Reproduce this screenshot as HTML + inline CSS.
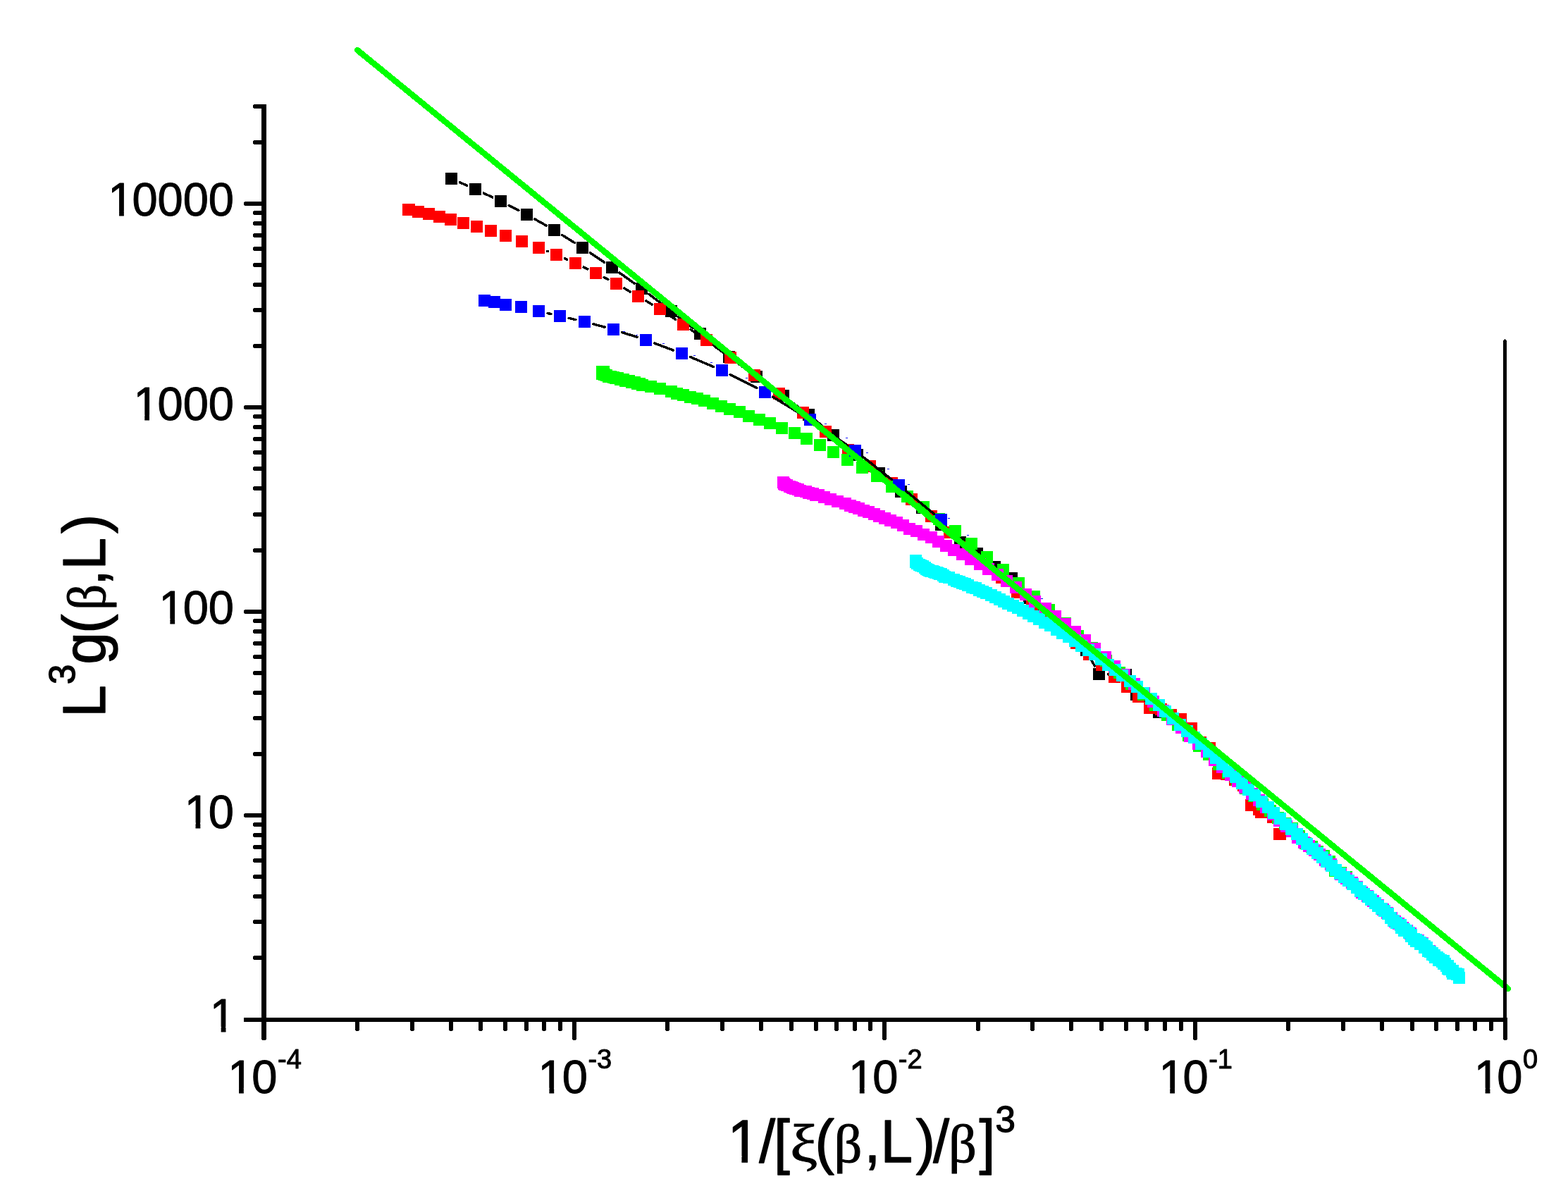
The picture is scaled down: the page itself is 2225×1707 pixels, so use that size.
<!DOCTYPE html>
<html lang="en"><head><meta charset="utf-8"><title>Scaling plot</title>
<style>html,body{margin:0;padding:0;background:#fff;overflow:hidden}svg{display:block}text{font-family:"Liberation Sans",sans-serif;fill:#000;stroke:#000;stroke-width:1px;stroke-linejoin:round}#xtitle text,#ytitle text{stroke-width:1.3px}#xtitle text.gk,#ytitle text.gk{font-family:"Liberation Serif",serif;stroke-width:1.1px}</style></head><body>
<svg width="2225" height="1707" viewBox="0 0 2225 1707" shape-rendering="crispEdges" role="img" aria-label="Log-log scaling plot of L^3 g(beta,L) versus 1/[xi(beta,L)/beta]^3">
<rect width="2225" height="1707" fill="#fff"/>
<g id="series-black">
<path fill="none" stroke="#000" stroke-width="3.5" stroke-linecap="round" d="M652.39 258.75L662.61 263.25M686.26 274.05L698.74 279.95M722.06 291.44L735.94 298.56M758.82 310.89L775.18 320.11M797.52 333.39L815.48 344.61M837.32 358.71L857.68 372.29M879.08 387.06L899.92 401.94M920.84 417.38L942.16 433.62M962.75 449.5L983.25 465.5M1003.64 481.64L1023.86 497.86M1044.54 513.61L1062.96 526.89M1084.1 542.03L1100.9 553.97M1121.9 569.3L1137.1 580.7M1157.51 596.79L1172.49 609.21M1192.54 625.76L1206.46 637.24M1226.46 653.85L1237.54 663.15M1257.46 679.85L1268.54 689.15M1288.73 705.52L1298.27 712.98M1318.22 729.64L1325.78 736.36M1345.13 753.74L1352.87 760.76M1373.32 776.71L1375.68 778.29M1396.85 793.37L1401.15 796.63M1422.32 811.71L1424.68 813.29M1444.07 830.27L1451.93 839.23M1470.9 856.8L1476.1 860.7M1495.33 878.04L1502.67 885.96M1521.08 904.28L1531.92 914.22M1547.65 934.45L1553.35 945.05M1572.5 956.84L1584.5 957.16M1603.64 968.96L1606.36 974.04M1622.74 993.5L1634.26 1002.5"/>
<path fill="#000" d="M632 245h17v17h-17zM666 260h17v17h-17zM702 277h17v17h-17zM739 296h17v17h-17zM778 318h17v17h-17zM818 343h17v17h-17zM860 371h17v17h-17zM902 401h17v17h-17zM944 433h17v17h-17zM985 465h17v17h-17zM1026 498h17v17h-17zM1065 526h17v17h-17zM1103 553h17v17h-17zM1139 580h17v17h-17zM1174 609h17v17h-17zM1208 637h17v17h-17zM1239 663h17v17h-17zM1270 689h17v17h-17zM1300 712h17v17h-17zM1327 736h17v17h-17zM1354 761h17v17h-17zM1378 777h17v17h-17zM1403 796h17v17h-17zM1427 812h17v17h-17zM1452 840h17v17h-17zM1478 860h17v17h-17zM1503 887h17v17h-17zM1533 914h17v17h-17zM1551 948h17v17h-17zM1589 949h17v17h-17zM1604 977h17v17h-17zM1636 1002h17v17h-17z"/>
</g>
<g id="series-red">
<path fill="none" stroke="#000" stroke-width="3.5" stroke-linecap="round" d="M776.57 356.33L777.43 356.67M801.38 366.78L804.62 368.22M828.21 379.15L833.79 381.85M857.05 393.47L862.95 396.53M885.74 409.03L894.26 413.97M916.74 427.03L925.26 431.97M947.32 445.71L958.68 453.29M980.24 467.82L991.76 475.68M1013.05 490.6L1025.95 499.9M1046.97 515.2L1060.03 524.8M1080.94 540.25L1095.06 550.75M1115.68 566.58L1129.32 577.42M1149.44 593.88L1161.56 604.12M1181.59 620.7L1193.41 630.3M1213.94 646.25L1224.06 653.75M1244.78 669.46L1255.22 677.54M1275.55 693.75L1283.45 700.25M1303.37 716.96L1311.63 724.04M1331.24 741.11L1337.76 746.89M1357.61 763.67L1363.39 768.33M1383.28 785.06L1387.72 788.94M1407.08 806.28L1411.92 810.72M1430.9 828.48L1434.1 831.52M1453.37 848.96L1454.63 850.04M1474.37 866.96L1475.63 868.04M1495.79 884.45L1497.21 885.55M1516.92 902.45L1518.08 903.55M1720.61 1073.83L1724.39 1085.17M1769.18 1126.63L1770.82 1130.87"/>
<path fill="#f00" d="M571 289h17v17h-17zM572 289h17v17h-17zM585 292h17v17h-17zM600 295h17v17h-17zM615 299h17v17h-17zM631 303h17v17h-17zM649 308h17v17h-17zM668 313h17v17h-17zM688 319h17v17h-17zM709 326h17v17h-17zM732 334h17v17h-17zM756 343h17v17h-17zM781 353h17v17h-17zM808 365h17v17h-17zM837 379h17v17h-17zM866 394h17v17h-17zM897 412h17v17h-17zM928 430h17v17h-17zM961 452h17v17h-17zM994 474h17v17h-17zM1028 499h17v17h-17zM1062 524h17v17h-17zM1097 550h17v17h-17zM1131 577h17v17h-17zM1163 604h17v17h-17zM1195 630h17v17h-17zM1226 653h17v17h-17zM1257 677h17v17h-17zM1285 700h17v17h-17zM1313 724h17v17h-17zM1339 747h17v17h-17zM1365 768h17v17h-17zM1389 789h17v17h-17zM1413 811h17v17h-17zM1435 832h17v17h-17zM1456 850h17v17h-17zM1477 868h17v17h-17zM1499 885h17v17h-17zM1519 904h17v17h-17zM1537 920h17v17h-17zM1555 935h17v17h-17zM1573 952h17v17h-17zM1591 966h17v17h-17zM1607 980h17v17h-17zM1623 996h17v17h-17zM1639 998h17v17h-17zM1653 1006h17v17h-17zM1667 1012h17v17h-17zM1682 1025h17v17h-17zM1695 1045h17v17h-17zM1708 1053h17v17h-17zM1720 1089h17v17h-17zM1732 1090h17v17h-17zM1744 1098h17v17h-17zM1756 1106h17v17h-17zM1767 1134h17v17h-17zM1778 1140h17v17h-17zM1781 1144h17v17h-17zM1798 1151h17v17h-17zM1807 1175h17v17h-17zM1808 1175h17v17h-17z"/>
</g>
<g id="series-green">
<path fill="#0f0" d="M846 519h17v17h-17zM848 519h17v17h-17zM846 522h17v17h-17zM849 523h17v17h-17zM852 524h17v17h-17zM855 526h17v17h-17zM858 526h17v17h-17zM862 527h17v17h-17zM865 528h17v17h-17zM868 528h17v17h-17zM872 530h17v17h-17zM876 530h17v17h-17zM879 532h17v17h-17zM884 532h17v17h-17zM888 534h17v17h-17zM892 534h17v17h-17zM896 536h17v17h-17zM899 536h17v17h-17zM903 538h17v17h-17zM915 540h17v17h-17zM928 543h17v17h-17zM944 547h17v17h-17zM952 550h17v17h-17zM961 552h17v17h-17zM971 555h17v17h-17zM981 557h17v17h-17zM991 560h17v17h-17zM1003 564h17v17h-17zM1015 568h17v17h-17zM1027 572h17v17h-17zM1041 576h17v17h-17zM1054 582h17v17h-17zM1069 587h17v17h-17zM1084 592h17v17h-17zM1101 599h17v17h-17zM1119 606h17v17h-17zM1136 614h17v17h-17zM1155 623h17v17h-17zM1174 633h17v17h-17zM1194 644h17v17h-17zM1215 655h17v17h-17zM1236 667h17v17h-17zM1257 682h17v17h-17zM1279 696h17v17h-17zM1302 711h17v17h-17zM1324 728h17v17h-17zM1347 745h17v17h-17zM1370 763h17v17h-17zM1392 782h17v17h-17zM1415 800h17v17h-17zM1437 819h17v17h-17zM1459 838h17v17h-17zM1480 857h17v17h-17zM1503 876h17v17h-17zM1521 894h17v17h-17zM1541 911h17v17h-17zM1561 929h17v17h-17zM1580 946h17v17h-17zM1597 962h17v17h-17zM1614 977h17v17h-17zM1631 992h17v17h-17zM1648 1006h17v17h-17zM1663 1020h17v17h-17zM1678 1035h17v17h-17zM1693 1050h17v17h-17zM1707 1062h17v17h-17zM1721 1076h17v17h-17zM1734 1088h17v17h-17zM1747 1098h17v17h-17zM1759 1110h17v17h-17zM1771 1121h17v17h-17zM1783 1133h17v17h-17zM1794 1142h17v17h-17zM1805 1152h17v17h-17zM1815 1160h17v17h-17zM1825 1167h17v17h-17zM1835 1178h17v17h-17zM1844 1188h17v17h-17zM1853 1193h17v17h-17zM1861 1200h17v17h-17zM1870 1206h17v17h-17zM1878 1214h17v17h-17zM1886 1227h17v17h-17zM1894 1230h17v17h-17zM1902 1236h17v17h-17z"/>
</g>
<g id="series-blue">
<path fill="none" stroke="#000" stroke-width="3.5" stroke-linecap="round" d="M777.16 444.45L781.84 445.55M807.17 451.4L816.83 453.6M842.06 459.87L857.94 464.13M882.86 471.53L904.14 478.47M928.68 487.04L955.32 496.96M979.48 506.54L1012.52 520.46M1036.09 531.39L1073.91 550.61M1096.6 563.26L1138.4 588.74M1160.21 602.86L1202.79 632.14M1223.7 647.56L1265.3 680.44M1285.57 696.72L1325.43 729.28"/>
<path fill="#00f" d="M679 418h17v17h-17zM693 420h17v17h-17zM709 424h17v17h-17zM731 427h17v17h-17zM756 433h17v17h-17zM786 440h17v17h-17zM821 448h17v17h-17zM862 459h17v17h-17zM908 474h17v17h-17zM959 493h17v17h-17zM1016 517h17v17h-17zM1077 548h17v17h-17zM1141 587h17v17h-17zM1205 631h17v17h-17zM1267 680h17v17h-17zM1327 729h17v17h-17z"/>
<path fill="#00f" d="M884 470h3v1h-3zM902 475h3v1h-3zM940 487h3v1h-3zM984 504h3v1h-3zM1008 514h3v1h-3zM1058 536h3v1h-3zM1170 601h3v1h-3zM1200 621h3v1h-3zM1229 642h3v1h-3zM1259 665h3v1h-3zM1288 687h3v1h-3zM1345 735h3v1h-3zM1372 759h3v1h-3zM1477 849h3v1h-3z"/>
</g>
<g id="series-magenta">
<path fill="#f0f" d="M1103 676h17v17h-17zM1104 678h17v17h-17zM1105 679h17v17h-17zM1108 680h17v17h-17zM1112 682h17v17h-17zM1115 683h17v17h-17zM1117 684h17v17h-17zM1120 685h17v17h-17zM1124 686h17v17h-17zM1127 688h17v17h-17zM1135 689h17v17h-17zM1139 691h17v17h-17zM1145 692h17v17h-17zM1149 694h17v17h-17zM1153 694h17v17h-17zM1161 697h17v17h-17zM1170 700h17v17h-17zM1180 703h17v17h-17zM1191 706h17v17h-17zM1198 709h17v17h-17zM1204 711h17v17h-17zM1210 713h17v17h-17zM1217 716h17v17h-17zM1224 718h17v17h-17zM1232 721h17v17h-17zM1239 724h17v17h-17zM1247 727h17v17h-17zM1255 730h17v17h-17zM1264 733h17v17h-17zM1273 737h17v17h-17zM1282 742h17v17h-17zM1292 745h17v17h-17zM1302 750h17v17h-17zM1313 754h17v17h-17zM1323 760h17v17h-17zM1334 766h17v17h-17zM1345 772h17v17h-17zM1357 778h17v17h-17zM1369 785h17v17h-17zM1382 792h17v17h-17zM1394 799h17v17h-17zM1407 807h17v17h-17zM1420 816h17v17h-17zM1433 825h17v17h-17zM1447 835h17v17h-17zM1460 845h17v17h-17zM1475 855h17v17h-17zM1489 866h17v17h-17zM1503 877h17v17h-17zM1517 888h17v17h-17zM1531 900h17v17h-17zM1545 912h17v17h-17zM1560 924h17v17h-17zM1573 937h17v17h-17zM1587 949h17v17h-17zM1601 962h17v17h-17zM1615 975h17v17h-17zM1628 987h17v17h-17zM1642 1000h17v17h-17zM1655 1012h17v17h-17zM1668 1024h17v17h-17zM1680 1036h17v17h-17zM1692 1047h17v17h-17zM1704 1058h17v17h-17zM1715 1070h17v17h-17zM1726 1080h17v17h-17zM1738 1091h17v17h-17zM1748 1100h17v17h-17zM1758 1109h17v17h-17zM1768 1118h17v17h-17zM1778 1127h17v17h-17zM1788 1137h17v17h-17zM1798 1147h17v17h-17zM1807 1156h17v17h-17zM1817 1164h17v17h-17zM1825 1171h17v17h-17zM1833 1180h17v17h-17zM1842 1187h17v17h-17zM1849 1192h17v17h-17zM1857 1198h17v17h-17zM1864 1204h17v17h-17zM1872 1212h17v17h-17zM1880 1218h17v17h-17zM1887 1226h17v17h-17zM1894 1232h17v17h-17zM1902 1238h17v17h-17zM1910 1244h17v17h-17zM1917 1250h17v17h-17zM1924 1258h17v17h-17zM1932 1263h17v17h-17zM1940 1270h17v17h-17zM1947 1276h17v17h-17zM1954 1282h17v17h-17zM1960 1287h17v17h-17zM1966 1294h17v17h-17zM1971 1299h17v17h-17zM1976 1302h17v17h-17zM1982 1308h17v17h-17zM1988 1312h17v17h-17zM1993 1316h17v17h-17zM1998 1324h17v17h-17zM2004 1326h17v17h-17zM2010 1330h17v17h-17zM2015 1336h17v17h-17zM2020 1341h17v17h-17z"/>
</g>
<g id="series-cyan">
<path fill="#0ff" d="M1291 787h17v17h-17zM1291 789h17v17h-17zM1293 791h17v17h-17zM1296 793h17v17h-17zM1298 794h17v17h-17zM1301 795h17v17h-17zM1304 797h17v17h-17zM1306 799h17v17h-17zM1308 800h17v17h-17zM1310 801h17v17h-17zM1312 802h17v17h-17zM1315 802h17v17h-17zM1317 803h17v17h-17zM1319 804h17v17h-17zM1321 804h17v17h-17zM1323 805h17v17h-17zM1325 806h17v17h-17zM1327 806h17v17h-17zM1330 808h17v17h-17zM1332 810h17v17h-17zM1338 811h17v17h-17zM1345 814h17v17h-17zM1349 816h17v17h-17zM1353 817h17v17h-17zM1357 819h17v17h-17zM1361 820h17v17h-17zM1365 822h17v17h-17zM1371 825h17v17h-17zM1376 826h17v17h-17zM1381 829h17v17h-17zM1386 831h17v17h-17zM1391 833h17v17h-17zM1398 836h17v17h-17zM1404 839h17v17h-17zM1410 842h17v17h-17zM1416 845h17v17h-17zM1422 848h17v17h-17zM1429 851h17v17h-17zM1436 854h17v17h-17zM1443 858h17v17h-17zM1451 862h17v17h-17zM1458 866h17v17h-17zM1466 870h17v17h-17zM1474 875h17v17h-17zM1482 879h17v17h-17zM1491 885h17v17h-17zM1499 890h17v17h-17zM1508 895h17v17h-17zM1517 901h17v17h-17zM1526 908h17v17h-17zM1536 914h17v17h-17zM1545 920h17v17h-17zM1554 927h17v17h-17zM1564 935h17v17h-17zM1574 942h17v17h-17zM1584 950h17v17h-17zM1595 958h17v17h-17zM1605 966h17v17h-17zM1614 975h17v17h-17zM1625 983h17v17h-17zM1636 992h17v17h-17zM1645 1001h17v17h-17zM1656 1011h17v17h-17zM1666 1020h17v17h-17zM1676 1029h17v17h-17zM1686 1038h17v17h-17zM1696 1047h17v17h-17zM1707 1058h17v17h-17zM1717 1067h17v17h-17zM1726 1076h17v17h-17zM1735 1086h17v17h-17zM1745 1094h17v17h-17zM1754 1103h17v17h-17zM1763 1112h17v17h-17zM1772 1120h17v17h-17zM1782 1129h17v17h-17zM1791 1137h17v17h-17zM1799 1145h17v17h-17zM1808 1153h17v17h-17zM1816 1161h17v17h-17zM1824 1168h17v17h-17zM1832 1175h17v17h-17zM1839 1182h17v17h-17zM1846 1189h17v17h-17zM1854 1196h17v17h-17zM1861 1202h17v17h-17zM1868 1208h17v17h-17zM1874 1214h17v17h-17zM1881 1220h17v17h-17zM1887 1226h17v17h-17zM1893 1231h17v17h-17zM1899 1236h17v17h-17zM1905 1241h17v17h-17zM1911 1246h17v17h-17zM1917 1251h17v17h-17zM1922 1256h17v17h-17zM1927 1260h17v17h-17zM1933 1264h17v17h-17zM1937 1268h17v17h-17zM1943 1273h17v17h-17zM1947 1277h17v17h-17zM1952 1281h17v17h-17zM1956 1284h17v17h-17zM1961 1288h17v17h-17zM1965 1294h17v17h-17zM1969 1298h17v17h-17zM1973 1301h17v17h-17zM1979 1304h17v17h-17zM1980 1308h17v17h-17zM1984 1310h17v17h-17zM1984 1312h17v17h-17zM1987 1312h17v17h-17zM1991 1315h17v17h-17zM1994 1318h17v17h-17zM1994 1320h17v17h-17zM1998 1324h17v17h-17zM2001 1325h17v17h-17zM2001 1327h17v17h-17zM2004 1327h17v17h-17zM2007 1329h17v17h-17zM2007 1331h17v17h-17zM2010 1331h17v17h-17zM2013 1334h17v17h-17zM2013 1336h17v17h-17zM2016 1336h17v17h-17zM2018 1341h17v17h-17zM2021 1342h17v17h-17zM2024 1344h17v17h-17zM2024 1346h17v17h-17zM2027 1347h17v17h-17zM2028 1350h17v17h-17zM2031 1350h17v17h-17zM2033 1352h17v17h-17zM2033 1354h17v17h-17zM2036 1354h17v17h-17zM2038 1356h17v17h-17zM2040 1355h17v17h-17zM2040 1359h17v17h-17zM2042 1359h17v17h-17zM2044 1362h17v17h-17zM2046 1362h17v17h-17zM2046 1366h17v17h-17zM2048 1367h17v17h-17zM2049 1366h17v17h-17zM2052 1370h17v17h-17zM2053 1369h17v17h-17zM2053 1373h17v17h-17zM2055 1373h17v17h-17zM2058 1373h17v17h-17zM2059 1374h17v17h-17zM2061 1374h17v17h-17zM2062 1379h17v17h-17z"/>
</g>
<path id="fit" fill="none" stroke="#0f0" stroke-width="8.5" stroke-linecap="round" d="M507 71L2139.8 1402.8"/>
<g id="axes" fill="#000">
<path d="M371 148h6l1 1V1474.4l-1.6 1.6h-3.8l-1.6 -1.6z"/>
<rect x="346" y="1444" width="1793" height="6"/>
<rect x="2133" y="483" width="5" height="962"/>
<path d="M2133 484L2135 481h1L2138 484z"/>
<path d="M347.6 1444H372v6H347.6l-1.6 -1.6v-2.8zM360.6 1356H372v6H360.6l-1.6 -1.6v-2.8zM360.6 1305H372v6H360.6l-1.6 -1.6v-2.8zM360.6 1269H372v6H360.6l-1.6 -1.6v-2.8zM360.6 1241H372v6H360.6l-1.6 -1.6v-2.8zM360.6 1218H372v6H360.6l-1.6 -1.6v-2.8zM360.6 1199H372v6H360.6l-1.6 -1.6v-2.8zM360.6 1182H372v6H360.6l-1.6 -1.6v-2.8zM360.6 1167H372v6H360.6l-1.6 -1.6v-2.8zM347.6 1154H372v6H347.6l-1.6 -1.6v-2.8zM360.6 1067H372v6H360.6l-1.6 -1.6v-2.8zM360.6 1016H372v6H360.6l-1.6 -1.6v-2.8zM360.6 980H372v6H360.6l-1.6 -1.6v-2.8zM360.6 952H372v6H360.6l-1.6 -1.6v-2.8zM360.6 929H372v6H360.6l-1.6 -1.6v-2.8zM360.6 910H372v6H360.6l-1.6 -1.6v-2.8zM360.6 893H372v6H360.6l-1.6 -1.6v-2.8zM360.6 878H372v6H360.6l-1.6 -1.6v-2.8zM347.6 865H372v6H347.6l-1.6 -1.6v-2.8zM360.6 778H372v6H360.6l-1.6 -1.6v-2.8zM360.6 727H372v6H360.6l-1.6 -1.6v-2.8zM360.6 690H372v6H360.6l-1.6 -1.6v-2.8zM360.6 662H372v6H360.6l-1.6 -1.6v-2.8zM360.6 639H372v6H360.6l-1.6 -1.6v-2.8zM360.6 620H372v6H360.6l-1.6 -1.6v-2.8zM360.6 603H372v6H360.6l-1.6 -1.6v-2.8zM360.6 588H372v6H360.6l-1.6 -1.6v-2.8zM347.6 575H372v6H347.6l-1.6 -1.6v-2.8zM360.6 488H372v6H360.6l-1.6 -1.6v-2.8zM360.6 437H372v6H360.6l-1.6 -1.6v-2.8zM360.6 401H372v6H360.6l-1.6 -1.6v-2.8zM360.6 373H372v6H360.6l-1.6 -1.6v-2.8zM360.6 350H372v6H360.6l-1.6 -1.6v-2.8zM360.6 331H372v6H360.6l-1.6 -1.6v-2.8zM360.6 314H372v6H360.6l-1.6 -1.6v-2.8zM360.6 299H372v6H360.6l-1.6 -1.6v-2.8zM347.6 286H372v6H347.6l-1.6 -1.6v-2.8zM360.6 199H372v6H360.6l-1.6 -1.6v-2.8zM360.6 148H372v6H360.6l-1.6 -1.6v-2.8z"/>
<path d="M372 1449V1474.4l1.6 1.6h2.8l1.6 -1.6V1449zM504 1449V1461.4l1.6 1.6h2.8l1.6 -1.6V1449zM582 1449V1461.4l1.6 1.6h2.8l1.6 -1.6V1449zM637 1449V1461.4l1.6 1.6h2.8l1.6 -1.6V1449zM679 1449V1461.4l1.6 1.6h2.8l1.6 -1.6V1449zM714 1449V1461.4l1.6 1.6h2.8l1.6 -1.6V1449zM744 1449V1461.4l1.6 1.6h2.8l1.6 -1.6V1449zM769 1449V1461.4l1.6 1.6h2.8l1.6 -1.6V1449zM792 1449V1461.4l1.6 1.6h2.8l1.6 -1.6V1449zM812 1449V1474.4l1.6 1.6h2.8l1.6 -1.6V1449zM944 1449V1461.4l1.6 1.6h2.8l1.6 -1.6V1449zM1022 1449V1461.4l1.6 1.6h2.8l1.6 -1.6V1449zM1077 1449V1461.4l1.6 1.6h2.8l1.6 -1.6V1449zM1120 1449V1461.4l1.6 1.6h2.8l1.6 -1.6V1449zM1155 1449V1461.4l1.6 1.6h2.8l1.6 -1.6V1449zM1184 1449V1461.4l1.6 1.6h2.8l1.6 -1.6V1449zM1210 1449V1461.4l1.6 1.6h2.8l1.6 -1.6V1449zM1232 1449V1461.4l1.6 1.6h2.8l1.6 -1.6V1449zM1252 1449V1474.4l1.6 1.6h2.8l1.6 -1.6V1449zM1385 1449V1461.4l1.6 1.6h2.8l1.6 -1.6V1449zM1462 1449V1461.4l1.6 1.6h2.8l1.6 -1.6V1449zM1517 1449V1461.4l1.6 1.6h2.8l1.6 -1.6V1449zM1560 1449V1461.4l1.6 1.6h2.8l1.6 -1.6V1449zM1595 1449V1461.4l1.6 1.6h2.8l1.6 -1.6V1449zM1624 1449V1461.4l1.6 1.6h2.8l1.6 -1.6V1449zM1650 1449V1461.4l1.6 1.6h2.8l1.6 -1.6V1449zM1673 1449V1461.4l1.6 1.6h2.8l1.6 -1.6V1449zM1693 1449V1474.4l1.6 1.6h2.8l1.6 -1.6V1449zM1825 1449V1461.4l1.6 1.6h2.8l1.6 -1.6V1449zM1903 1449V1461.4l1.6 1.6h2.8l1.6 -1.6V1449zM1958 1449V1461.4l1.6 1.6h2.8l1.6 -1.6V1449zM2001 1449V1461.4l1.6 1.6h2.8l1.6 -1.6V1449zM2035 1449V1461.4l1.6 1.6h2.8l1.6 -1.6V1449zM2065 1449V1461.4l1.6 1.6h2.8l1.6 -1.6V1449zM2090 1449V1461.4l1.6 1.6h2.8l1.6 -1.6V1449zM2113 1449V1461.4l1.6 1.6h2.8l1.6 -1.6V1449zM2133 1449V1474.4l1.6 1.6h2.8l1.6 -1.6V1449z"/>
</g>
<defs>
<clipPath id="c65"><path clip-rule="evenodd" d="M-20 -130 H520 V65 H-20 Z M1.95 -7.06H15.85V4H1.95Z M22.59 -7.06H35.97V4H22.59Z"/></clipPath>
<clipPath id="c82"><path clip-rule="evenodd" d="M-20 -164 H656 V82 H-20 Z M3.25 -8.33H19.97V4H3.25Z M28.51 -8.33H44.6V4H28.51Z"/></clipPath>
</defs>
<g id="ylabels" font-size="65">
<g transform="translate(295.85 1464) scale(1 1.03)"><text x="0" clip-path="url(#c65)" transform="translate(2.0 0)">1</text></g>
<g transform="translate(259.7 1174.55) scale(1 1.03)"><text x="0" clip-path="url(#c65)" transform="translate(2.0 0)">1</text><text x="36.15">0</text></g>
<g transform="translate(223.55 885.1) scale(1 1.03)"><text x="0" clip-path="url(#c65)" transform="translate(2.0 0)">1</text><text x="36.15">00</text></g>
<g transform="translate(187.4 595.65) scale(1 1.03)"><text x="0" clip-path="url(#c65)" transform="translate(2.0 0)">1</text><text x="36.15">000</text></g>
<g transform="translate(151.25 306.2) scale(1 1.03)"><text x="0" clip-path="url(#c65)" transform="translate(2.0 0)">1</text><text x="36.15">0000</text></g>
</g>
<g id="xlabels" font-size="65">
<g transform="translate(321.2 1551) scale(1 1.03)"><text clip-path="url(#c65)" transform="translate(2.0 0)">1</text><text x="36.15">0<tspan font-size="38" dy="-33.8" dx="0.5">-4</tspan></text></g>
<g transform="translate(761.6 1551) scale(1 1.03)"><text clip-path="url(#c65)" transform="translate(2.0 0)">1</text><text x="36.15">0<tspan font-size="38" dy="-33.8" dx="0.5">-3</tspan></text></g>
<g transform="translate(1202 1551) scale(1 1.03)"><text clip-path="url(#c65)" transform="translate(2.0 0)">1</text><text x="36.15">0<tspan font-size="38" dy="-33.8" dx="0.5">-2</tspan></text></g>
<g transform="translate(1642.4 1551) scale(1 1.03)"><text clip-path="url(#c65)" transform="translate(2.0 0)">1</text><text x="36.15">0<tspan font-size="38" dy="-33.8" dx="0.5">-1</tspan></text></g>
<g transform="translate(2089.8 1551) scale(1 1.03)"><text clip-path="url(#c65)" transform="translate(2.0 0)">1</text><text x="34.55">0<tspan font-size="38" dy="-33.8" dx="0.5">0</tspan></text></g>
</g>
<g id="xtitle" font-size="82">
<text clip-path="url(#c82)" transform="translate(1032.5 1649) scale(1 1.03)">1</text>
<text transform="translate(1077.2 1649) scale(1 1.03)">/</text>
<text transform="translate(1098.1 1649) scale(1 1.03)">[</text>
<text transform="translate(1156.5 1649) scale(1 1.03)">(</text>
<text transform="translate(1226.6 1649) scale(1 1.03)">,</text>
<text transform="translate(1249.5 1649) scale(1 1.03)">L</text>
<text transform="translate(1299.7 1649) scale(1 1.03)">)</text>
<text transform="translate(1324.2 1649) scale(1 1.03)">/</text>
<text transform="translate(1389.4 1649) scale(1 1.03)">]</text>
<text class="gk" font-size="76" transform="translate(1121.25 1649) scale(1.15 1)">ξ</text>
<text class="gk" font-size="76" transform="translate(1183.39 1649) scale(1.03 1)">β</text>
<text class="gk" font-size="76" transform="translate(1346.09 1649) scale(1.03 1)">β</text>
<text font-size="51" transform="translate(1412.5 1606) scale(1 1.03)">3</text>
</g>
<g id="ytitle" font-size="82" transform="translate(148.9 1011.1) rotate(-90)">
<text transform="translate(-6.7 0) scale(1 1.03)">L</text>
<text transform="translate(68.4 0) scale(1 1.03)">g</text>
<text transform="translate(112.4 0) scale(1 1.03)">(</text>
<text transform="translate(180.1 0) scale(1 1.03)">,</text>
<text transform="translate(202.6 0) scale(1 1.03)">L</text>
<text transform="translate(254 0) scale(1 1.03)">)</text>
<text font-size="51" transform="translate(40.1 -43) scale(1 1.03)">3</text>
<text class="gk" font-size="76" transform="translate(145.38 0) scale(0.95 1)">β</text>
</g>
</svg></body></html>
